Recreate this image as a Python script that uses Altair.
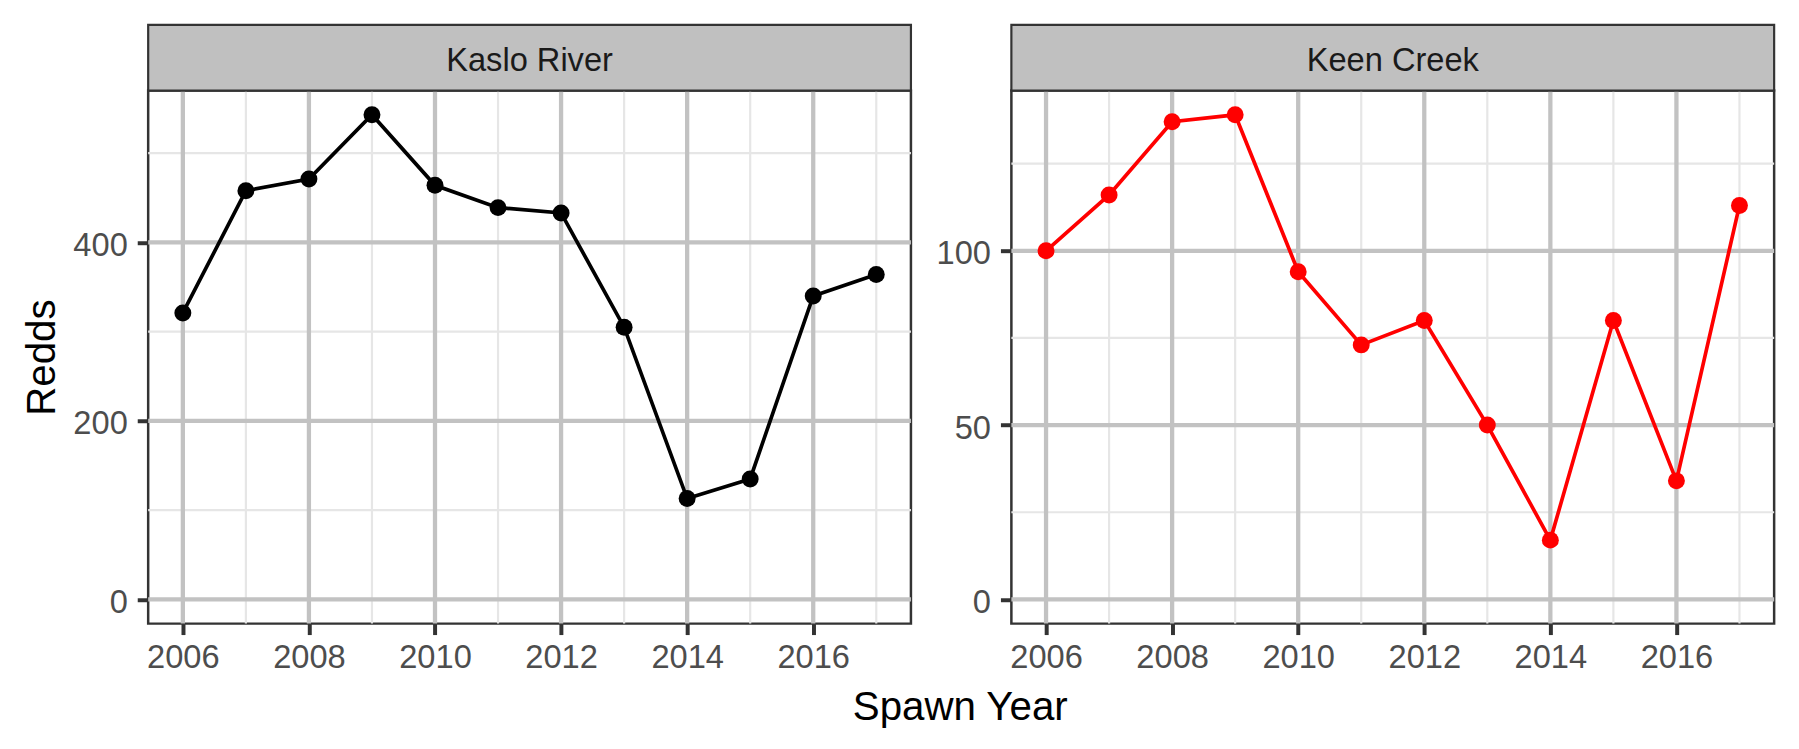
import altair as alt
import pandas as pd

# ---- data ----
years = [2006, 2007, 2008, 2009, 2010, 2011, 2012, 2013, 2014, 2015, 2016, 2017]
panels = ["Kaslo River", "Keen Creek"]
kaslo_redds = [321, 458, 471, 543, 464, 439, 433, 305, 113, 135, 340, 364]
keen_redds = [100, 116, 137, 139, 94, 73, 80, 50, 17, 80, 34, 113]
series = [kaslo_redds, keen_redds]
line_colors = ["#000000", "#FF0000"]

x_major = [2006, 2008, 2010, 2012, 2014, 2016]
x_minor = [2007, 2009, 2011, 2013, 2015, 2017]
y_major = [[0, 200, 400], [0, 50, 100]]
y_minor = [[100, 300, 500], [25, 75, 125]]
x_domain = [2005.45, 2017.55]
y_domains = [[-27.15, 570.15], [-6.95, 145.95]]

FONT = "Liberation Sans"
W, H, STRIP_H = 767, 536, 66
LABEL_FS, STRIP_FS, TITLE_FS = 32.8, 32.8, 40.5
MAJOR_C, MINOR_C = "#C2C2C2", "#E6E6E6"


def make_panel(i):
    name = panels[i]
    df = pd.DataFrame({"year": years, "redds": series[i]})
    xs = alt.Scale(domain=x_domain, nice=False, zero=False)
    ys = alt.Scale(domain=y_domains[i], nice=False, zero=False)

    common = dict(grid=False, domain=False, tickSize=11, tickWidth=4,
                  tickColor="#333333", labelFontSize=LABEL_FS, labelColor="#4D4D4D",
                  labelFont=FONT, labelFlush=False)
    x_axis = alt.Axis(values=x_major, format="d", labelPadding=7.6, **common)
    if i == 0:
        y_axis = alt.Axis(values=y_major[i], labelPadding=10, labelOffset=3,
                          titleX=-94, titleY=H / 2, titleAngle=270,
                          titleBaseline="alphabetic", titleAlign="center",
                          titleFontSize=TITLE_FS, titleFont=FONT, titleFontWeight="normal",
                          titleColor="#000000", **common)
        y_enc = alt.Y("redds:Q", scale=ys, axis=y_axis, title="Redds")
    else:
        y_axis = alt.Axis(values=y_major[i], labelPadding=10, labelOffset=3, **common)
        y_enc = alt.Y("redds:Q", scale=ys, axis=y_axis, title=None)
    x_enc = alt.X("year:Q", scale=xs, axis=x_axis, title=None)

    gx_minor = alt.Chart(pd.DataFrame({"year": x_minor})).mark_rule(
        color=MINOR_C, strokeWidth=2.2).encode(x=x_enc)
    gy_minor = alt.Chart(pd.DataFrame({"redds": y_minor[i]})).mark_rule(
        color=MINOR_C, strokeWidth=2.2).encode(y=y_enc)
    gx_major = alt.Chart(pd.DataFrame({"year": x_major})).mark_rule(
        color=MAJOR_C, strokeWidth=4.3).encode(x=x_enc)
    gy_major = alt.Chart(pd.DataFrame({"redds": y_major[i]})).mark_rule(
        color=MAJOR_C, strokeWidth=4.3).encode(y=y_enc)

    line = alt.Chart(df).mark_line(color=line_colors[i], strokeWidth=3.7).encode(
        x=x_enc, y=y_enc)
    pts = alt.Chart(df).mark_circle(color=line_colors[i], opacity=1, size=290).encode(
        x=x_enc, y=y_enc)

    # facet strip drawn above the panel
    strip_df = pd.DataFrame({"panel": [name]})
    strip_bg = alt.Chart(strip_df).mark_rect(
        fill="#C0C0C0", stroke="#333333", strokeWidth=2.2).encode(
        x=alt.value(0), x2=alt.value(W), y=alt.value(-STRIP_H), y2=alt.value(0))
    strip_txt = alt.Chart(strip_df).mark_text(
        font=FONT, fontSize=STRIP_FS, color="#1A1A1A", align="center", baseline="middle"
    ).encode(x=alt.value(W / 2), y=alt.value(-STRIP_H + 36.2), text="panel:N")

    return alt.layer(gx_minor, gy_minor, gx_major, gy_major, line, pts,
                     strip_bg, strip_txt).properties(
        width=W, height=H,
        view=alt.ViewBackground(fill="white", stroke="#333333", strokeWidth=2.5))


chart = alt.hconcat(make_panel(0), make_panel(1), spacing=20).properties(
    title=alt.TitleParams("Spawn Year", orient="bottom", anchor="middle",
                          font=FONT, fontSize=TITLE_FS, fontWeight="normal",
                          color="#000000", offset=12, dx=61),
    padding={"left": 21, "top": 20, "right": 21, "bottom": 20},
    background="white")

chart.save("out.html", embed_options={"renderer": "svg", "actions": False})
